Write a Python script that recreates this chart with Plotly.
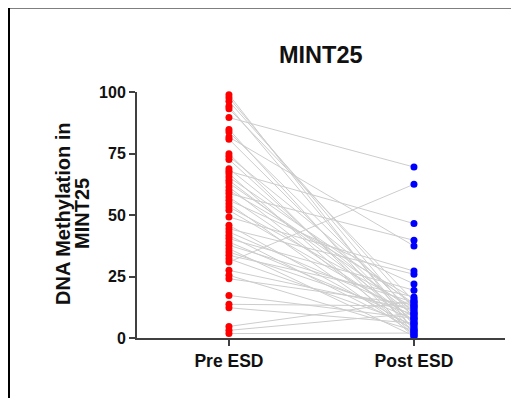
import plotly.graph_objects as go

categories = ["Pre ESD", "Post ESD"]
pre_values = [98.9, 97.7, 96.2, 94.2, 93.2, 89.6, 84.8, 83.7, 81.7, 80.8, 74.9, 73.8, 72.6,
              68.8, 67.8, 66.8, 65.4, 64.1, 63.0, 61.4, 60.0, 58.7, 57.3, 56.0, 54.6, 53.3,
              51.9, 49.2, 45.8, 44.4, 43.1, 41.7, 40.4, 39.0, 37.7, 36.3, 35.0, 33.6, 32.2,
              30.9, 27.5, 25.5, 24.1, 17.3, 13.7, 12.3, 4.7, 3.1, 1.8]
post_values = [3, 8, 12, 5, 15, 69.5, 2, 10, 37.4, 6, 1, 13, 4,
               9, 46.5, 0.5, 14, 7, 11, 2.5, 16, 39.7, 6.5, 22, 1.5, 12.5,
               8.5, 27.2, 4.5, 25.9, 10.5, 3.5, 19.4, 7.5, 14.5, 0.8, 9.5, 16.7, 5.5,
               62.5, 11.5, 3, 13.5, 8, 13, 6, 15, 10, 2]
y_ticks = [0, 25, 50, 75, 100]

FONT = "Arial, Liberation Sans, sans-serif"

lx, ly = [], []
for a, b in zip(pre_values, post_values):
    lx += [0, 1, None]
    ly += [a, b, None]

fig = go.Figure()
fig.add_trace(go.Scatter(x=lx, y=ly, mode="lines", line=dict(color="#cdcdcd", width=1),
                         hoverinfo="skip", showlegend=False))
fig.add_trace(go.Scatter(x=[0] * len(pre_values), y=pre_values, mode="markers",
                         marker=dict(color="#ff0000", size=7), cliponaxis=False,
                         name=categories[0], showlegend=False))
fig.add_trace(go.Scatter(x=[1] * len(post_values), y=post_values, mode="markers",
                         marker=dict(color="#0000ff", size=7), cliponaxis=False,
                         name=categories[1], showlegend=False))

OFF = 8  # page body margin
W, H = 519 - OFF, 398 - OFF
L, T = 137 - OFF, 92 - OFF
R = W - (505 - OFF)
B = H - (338 - OFF)
pw, ph = W - L - R, H - T - B

def px(x):
    return (x - OFF - L) / pw

def py(y):
    return (H - B - (y - OFF)) / ph

fig.update_layout(
    width=W, height=H,
    margin=dict(l=L, r=R, t=T, b=B),
    paper_bgcolor="white", plot_bgcolor="white",
    font=dict(family=FONT, color="#111"),
    xaxis=dict(range=[-0.497, 1.492], tickvals=[0, 1],
               ticktext=[f"<b>{c}</b>" for c in categories],
               showline=True, linecolor="#404040", linewidth=2, showgrid=False, zeroline=False,
               ticks="outside", ticklen=6, tickwidth=2, tickcolor="#404040",
               tickfont=dict(family=FONT, size=17.5, color="#111")),
    yaxis=dict(range=[0, 100], tickvals=y_ticks,
               ticktext=[f"<b>{v}</b>" for v in y_ticks],
               showline=True, linecolor="#404040", linewidth=2, showgrid=False, zeroline=False,
               ticks="outside", ticklen=6, tickwidth=2, tickcolor="#404040",
               tickfont=dict(family=FONT, size=16, color="#111")),
    annotations=[
        dict(text="<b>MINT25</b>", xref="paper", yref="paper", x=px(321), y=py(55),
             xanchor="center", yanchor="middle", showarrow=False,
             font=dict(family=FONT, size=23.5, color="#111")),
        dict(text="<b>DNA Methylation in</b>", xref="paper", yref="paper", x=px(63), y=py(214),
             xanchor="center", yanchor="middle", showarrow=False, textangle=-90,
             font=dict(family=FONT, size=20, color="#111")),
        dict(text="<b>MINT25</b>", xref="paper", yref="paper", x=px(82), y=py(214),
             xanchor="center", yanchor="middle", showarrow=False, textangle=-90,
             font=dict(family=FONT, size=20, color="#111")),
    ],
    shapes=[
        dict(type="path", xref="paper", yref="paper",
             path=f"M {px(9)},{py(420)} L {px(9)},{py(7.5)} L {px(514)},{py(7.5)} L {px(514)},{py(420)}",
             line=dict(color="black", width=2)),
    ],
)

fig.write_html("out.html")
